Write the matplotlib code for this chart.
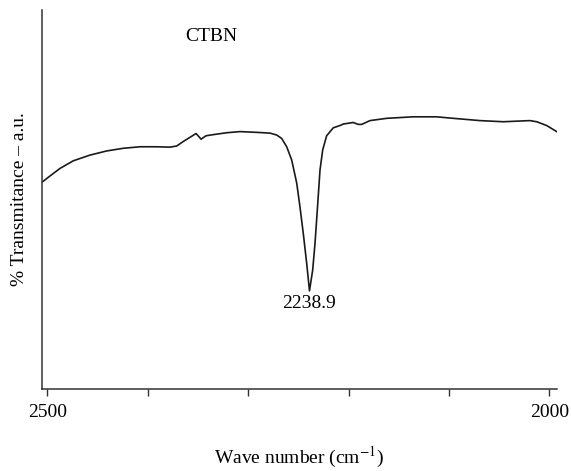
import numpy as np
import matplotlib.pyplot as plt

plt.rcParams['font.family'] = ['Liberation Serif', 'DejaVu Serif']
plt.rcParams['mathtext.fontset'] = 'stix'

# FTIR trace of CTBN (wavenumber in cm^-1, transmittance in a.u.)
wavenumber = [2504.7, 2497.4, 2487.4, 2474.2, 2457.6, 2440.9, 2424.4, 2407.7,
              2391.1, 2377.9, 2371.2, 2364.6, 2357.9, 2351.9, 2346.9, 2342.0,
              2334.7, 2321.4, 2308.1, 2291.5, 2278.2, 2271.6, 2266.6, 2261.6,
              2256.6, 2251.6, 2248.4, 2245.1, 2241.7, 2238.9, 2235.7, 2233.4,
              2231.1, 2228.4, 2225.7, 2221.8, 2215.2, 2208.5, 2205.2, 2195.3,
              2190.3, 2186.9, 2178.6, 2162.0, 2135.5, 2112.2, 2095.6, 2069.0,
              2045.8, 2019.2, 2012.5, 2002.6, 1992.6]
transmittance = [54.7, 56.2, 58.2, 60.2, 61.7, 62.8, 63.5, 63.9,
                 63.9, 63.8, 64.1, 65.3, 66.4, 67.4, 65.9, 66.8,
                 67.1, 67.6, 67.9, 67.7, 67.5, 67.0, 66.1, 63.9,
                 60.4, 54.3, 48.1, 41.1, 33.2, 25.9, 31.4, 38.4,
                 47.2, 57.8, 63.1, 66.8, 68.9, 69.5, 69.9, 70.3,
                 69.8, 69.8, 70.8, 71.4, 71.8, 71.8, 71.4, 70.8,
                 70.5, 70.8, 70.5, 69.5, 67.9]
peak_label = 2238.9
peak_value = 25.9

fig = plt.figure(figsize=(5.71, 4.71), dpi=100)
ax = fig.add_axes([0.073, 0.174, 0.903, 0.805])

ax.plot(wavenumber, transmittance, color='#1a1a1a', lw=1.2,
        solid_joinstyle='round')
ax.text(peak_label, peak_value - 1.2, '{:.1f}'.format(peak_label),
        ha='center', va='top', fontsize=14)
ax.text(2337, 93, 'CTBN', ha='center', va='center', fontsize=14)

ax.set_xlim(2505.7, 1992)
ax.set_ylim(0, 100)
ax.set_xticks([2500, 2400, 2300, 2200, 2100, 2000])
ax.set_xticklabels(['2500', '', '', '', '', '2000'], fontsize=14)
ax.set_yticks([])
ax.tick_params(axis='x', direction='out', length=5, width=1, pad=6,
               color='#333333')

for side in ['top', 'right']:
    ax.spines[side].set_visible(False)
for side in ['left', 'bottom']:
    ax.spines[side].set_color('#333333')
    ax.spines[side].set_linewidth(1.1)

ax.set_xlabel('Wave number (cm$^{-1}$)', fontsize=14, labelpad=17)
ax.set_ylabel('% Transmitance \u2013 a.u.', fontsize=14, labelpad=10)

fig.savefig('out.png', dpi=100)
